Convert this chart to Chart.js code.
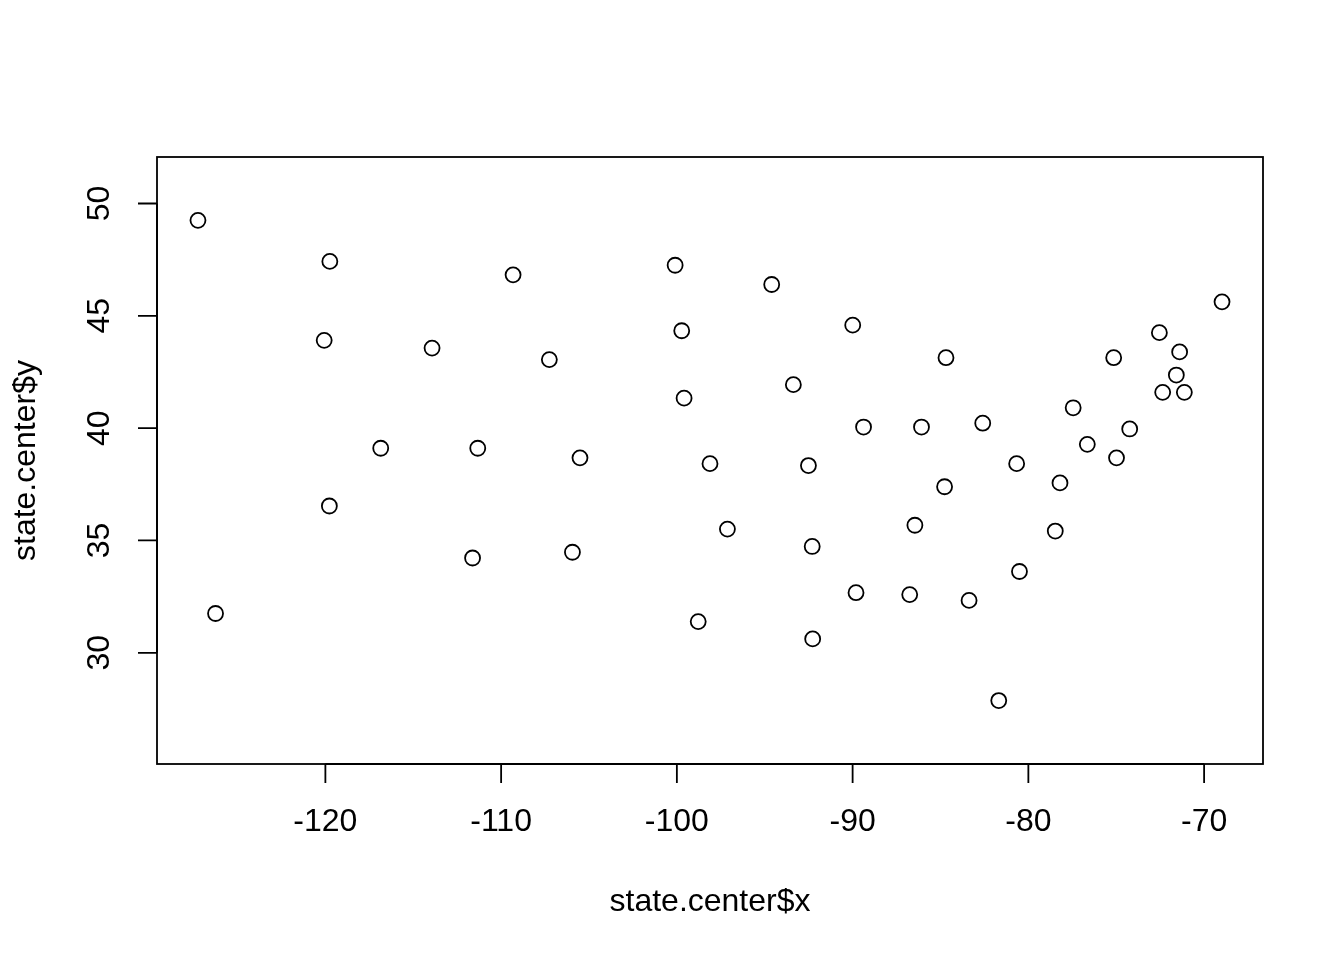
<!DOCTYPE html>
<html>
<head>
<meta charset="utf-8">
<script src="https://cdn.jsdelivr.net/npm/chart.js@4/dist/chart.umd.min.js"></script>
<style>
  html, body { margin: 0; padding: 0; background: #ffffff; }
  #wrap { width: 1344px; height: 960px; position: relative; }
</style>
</head>
<body>
<div id="wrap"><canvas id="c" width="1344" height="960"></canvas></div>
<script>
// state.center x (longitude) and y (latitude)
const stateX = [-86.7509, -127.2500, -111.6250, -92.2992, -119.7730, -105.5130, -72.3573, -74.9841, -81.6850, -83.3736,
  -126.2500, -113.9300, -89.3776, -86.0808, -93.3714, -98.1156, -84.7674, -92.2724, -68.9801, -76.6459,
  -71.5800, -84.6870, -94.6043, -89.8065, -92.5137, -109.3200, -99.5898, -116.8510, -71.3924, -74.2336,
  -105.9420, -75.1449, -78.4686, -100.0990, -82.5963, -97.1239, -120.0680, -77.4500, -71.1244, -80.5056,
  -99.7238, -86.4560, -98.7857, -111.3300, -72.5450, -78.2005, -119.7460, -80.6665, -89.9941, -107.2560];
const stateY = [32.5901, 49.2500, 34.2192, 34.7336, 36.5341, 38.6777, 41.5928, 38.6777, 27.8744, 32.3329,
  31.7500, 43.5648, 40.0495, 40.0495, 41.9358, 38.4204, 37.3915, 30.6181, 45.6226, 39.2778,
  42.3645, 43.1361, 46.3943, 32.6758, 38.3347, 46.8230, 41.3356, 39.1063, 43.3934, 39.9637,
  34.4764, 43.1361, 35.4195, 47.2517, 40.2210, 35.5053, 43.9078, 40.9069, 41.5928, 33.6190,
  44.3365, 35.6767, 31.3897, 39.1063, 44.2508, 37.5630, 47.4231, 38.4204, 44.5855, 43.0504];
const xTicks = [-120, -110, -100, -90, -80, -70];
const yTicks = [30, 35, 40, 45, 50];
const xTitle = 'state.center$x';
const yTitle = 'state.center$y';

const points = stateX.map((x, i) => ({ x: x, y: stateY[i] }));
const FONT = '"Liberation Sans", Arial, Helvetica, sans-serif';

const rAxes = {
  id: 'rAxes',
  afterDraw(chart) {
    const ctx = chart.ctx;
    const a = chart.chartArea;
    const xs = chart.scales.x, ys = chart.scales.y;
    ctx.save();
    ctx.strokeStyle = '#000';
    ctx.fillStyle = '#000';
    ctx.lineWidth = 1.8;
    // box
    ctx.strokeRect(a.left, a.top, a.right - a.left, a.bottom - a.top);
    const tick = 19;
    // x axis
    const x0 = xs.getPixelForValue(xTicks[0]);
    const x1 = xs.getPixelForValue(xTicks[xTicks.length - 1]);
    ctx.beginPath();
    ctx.moveTo(x0, a.bottom); ctx.lineTo(x1, a.bottom);
    xTicks.forEach(v => {
      const px = xs.getPixelForValue(v);
      ctx.moveTo(px, a.bottom); ctx.lineTo(px, a.bottom + tick);
    });
    // y axis
    const y0 = ys.getPixelForValue(yTicks[0]);
    const y1 = ys.getPixelForValue(yTicks[yTicks.length - 1]);
    ctx.moveTo(a.left, y0); ctx.lineTo(a.left, y1);
    yTicks.forEach(v => {
      const py = ys.getPixelForValue(v);
      ctx.moveTo(a.left, py); ctx.lineTo(a.left - tick, py);
    });
    ctx.stroke();
    // labels
    ctx.font = '32px ' + FONT;
    ctx.textAlign = 'center';
    ctx.textBaseline = 'middle';
    xTicks.forEach(v => {
      ctx.fillText(String(v), xs.getPixelForValue(v), a.bottom + 58);
    });
    yTicks.forEach(v => {
      ctx.save();
      ctx.translate(a.left - 57, ys.getPixelForValue(v));
      ctx.rotate(-Math.PI / 2);
      ctx.fillText(String(v), 0, 0);
      ctx.restore();
    });
    // titles
    ctx.fillText(xTitle, (a.left + a.right) / 2, a.bottom + 138);
    ctx.save();
    ctx.translate(a.left - 131, (a.top + a.bottom) / 2);
    ctx.rotate(-Math.PI / 2);
    ctx.fillText(yTitle, 0, 0);
    ctx.restore();
    ctx.restore();
  }
};

new Chart(document.getElementById('c'), {
  type: 'scatter',
  data: {
    datasets: [{
      data: points,
      pointStyle: 'circle',
      pointRadius: 7.5,
      pointHoverRadius: 7.5,
      pointBorderWidth: 1.8,
      pointBorderColor: '#000',
      pointBackgroundColor: 'rgba(0,0,0,0)'
    }]
  },
  options: {
    responsive: false,
    animation: false,
    events: [],
    layout: { padding: { left: 157, right: 81, top: 157, bottom: 196 } },
    plugins: { legend: { display: false }, tooltip: { enabled: false } },
    scales: {
      x: { type: 'linear', min: -129.581, max: -66.649, display: false },
      y: { type: 'linear', min: 25.05, max: 52.07, display: false }
    }
  },
  plugins: [rAxes]
});
</script>
</body>
</html>
